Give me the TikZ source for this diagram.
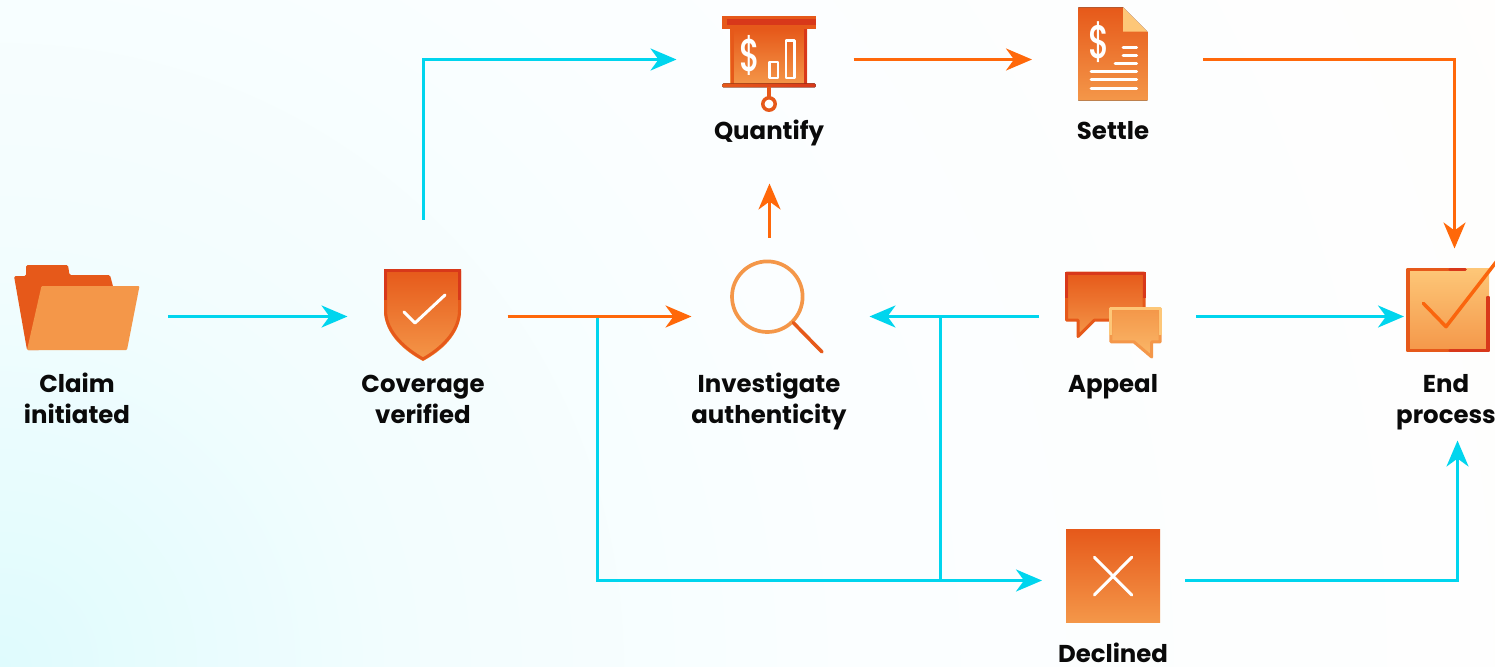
\documentclass[tikz,border=0pt]{standalone}
\usepackage{fontspec}
\usepackage{graphicx}
\setmainfont{Poppins}
\newfontfamily\dollarfont{Poppins Medium}
\usetikzlibrary{arrows.meta,calc}
\definecolor{flowcyan}{HTML}{00D5EE}
\definecolor{floworange}{HTML}{FF680A}
\definecolor{deep}{HTML}{E6591A}
\definecolor{mid}{HTML}{F49749}
\definecolor{redd}{HTML}{D8381A}
\definecolor{pale}{HTML}{FDC778}
\definecolor{txt}{HTML}{0A0A0A}
\definecolor{bgA}{HTML}{DFFBFD}
\definecolor{bgB}{HTML}{F2FDFE}
\definecolor{bgC}{HTML}{FBFEFF}
\definecolor{bgD}{HTML}{FFFEFD}
\definecolor{bgE}{HTML}{FFFCF9}
\pgfdeclareradialshading{bgglow}{\pgfpointorigin}{color(0bp)=(bgA); color(6bp)=(bgB); color(13bp)=(bgC); color(26bp)=(bgD); color(50bp)=(bgE)}
\tikzset{
  iconbox/.style={minimum width=#1,inner sep=0pt,outer sep=0pt,draw=none},
  lab/.style={font=\fontsize{24.4}{31}\selectfont\bfseries,text=txt,align=center,inner sep=0pt,anchor=base},
  cyanflow/.style={draw=flowcyan,line width=3pt,-{Stealth[length=26pt,width=22pt,inset=8pt]}},
  orangeflow/.style={draw=floworange,line width=3pt,-{Stealth[length=26pt,width=22pt,inset=8pt]}},
  cyanline/.style={draw=flowcyan,line width=3pt},
  grad/.style={top color=deep,bottom color=mid},
  whiteline/.style={draw=white,line width=3pt,line cap=round,line join=round},
  glyph/.style={font=\fontsize{#1}{#1}\selectfont\dollarfont,text=white,inner sep=0pt}
}
\begin{document}
\begin{tikzpicture}[x=1pt,y=-1pt]
\useasboundingbox (0,0) rectangle (1495,666);
\clip (0,0) rectangle (1495,666);
\shade[shading=bgglow] (0,666) circle (1640);

% placeholders
\node[iconbox=126pt,minimum height=70pt] (claim) at (77,316.5) {};
\node[iconbox=78pt,minimum height=94pt] (coverage) at (423.5,316.5) {};
\node[iconbox=94pt,minimum height=100pt] (investigate) at (769.5,316.5) {};
\node[iconbox=94pt,minimum height=86pt] (quantify) at (769.5,59.5) {};
\node[iconbox=70pt,minimum height=100pt] (settle) at (1113,59.5) {};
\node[iconbox=98pt,minimum height=90pt] (appeal) at (1113,316.5) {};
\node[iconbox=88pt,minimum height=136pt] (endp) at (1448,316.5) {};
\node[iconbox=94pt,minimum height=94pt] (declined) at (1113,580.5) {};
\coordinate (branchA) at (597.5,316.5);
\coordinate (branchB) at (940.5,316.5);

% connectors
\draw[cyanflow] (branchA) |- ([xshift=-24pt]declined.west);
\draw[cyanline] (branchB) -- (branchB |- declined.west);
\draw[cyanflow,shorten <=28pt,shorten >=37pt] (claim.east) -- (coverage.west);
\draw[orangeflow,shorten <=45pt,shorten >=31pt] (coverage.east) -- (investigate.west);
\draw[cyanflow,shorten <=50pt,shorten >=46pt] (coverage.north) |- (quantify.west);
\draw[orangeflow,shorten <=37pt,shorten >=46pt] (quantify.east) -- (settle.west);
\draw[orangeflow,shorten <=55pt] (settle.east) -| ([xshift=6.5pt]endp.north);
\draw[orangeflow,shorten <=29pt,shorten >=81pt] (investigate.north) -- (quantify.south);
\draw[cyanflow,shorten <=25pt,shorten >=53pt] (appeal.west) -- (investigate.east);
\draw[cyanflow,shorten <=34pt] (appeal.east) -- (endp.west);
\draw[cyanflow,shorten <=25pt,shorten >=56pt] (declined.east) -| ([xshift=9.5pt]endp.south);

% folder
\fill[deep,rounded corners=1.5pt] (14,276) -- (26,276) -- (26,265) -- (68,265) -- (69.5,275) -- (110,275) -- (114,290) -- (40,350) -- (27,350) -- cycle;
\fill[mid,rounded corners=1pt] (41.5,286) -- (139.5,286) -- (127,350) -- (27,350) -- cycle;

% shield
\path[grad,draw=none] (384,269) -- (461,269) -- (461,310) .. controls (461,335) and (440,352) .. (423,361) .. controls (406,352) and (384,335) .. (384,310) -- cycle;
\draw[deep,line width=3pt] (385.5,270.5) -- (385.5,310) .. controls (385.5,333) and (407,350) .. (423,359) .. controls (439,350) and (459.5,333) .. (459.5,310) -- (459.5,270.5);
\draw[redd,line width=3pt,line join=miter] (385.5,300) -- (385.5,270.5) -- (459.5,270.5) -- (459.5,300);
\draw[whiteline] (404,312) -- (415,323) -- (445,295);

% quantify
\fill[grad] (730.7,29) rectangle (807,85);
\fill[redd] (804,29) rectangle (807,85);
\fill[deep] (730.7,29) rectangle (733.5,85);
\fill[deep] (722.3,16) rectangle (815.7,29);
\fill[redd] (726.5,19) rectangle (815.7,25);
\fill[left color=deep,right color=redd,rounded corners=1pt] (722.3,83.5) rectangle (815.7,87.5);
\fill[deep] (767.3,87) rectangle (770.7,98);
\draw[deep,line width=3.5pt,fill=white] (769,104) circle (6.2);
\node[glyph=46] (dollarA) at (749.5,55) {\scalebox{0.7}[1]{\$}};
\draw[draw=white,line width=2.6pt,line join=round] (769.5,62) rectangle (778,78);
\draw[draw=white,line width=2.6pt,line join=round] (785.8,40.5) rectangle (794.5,78);

% settle
\fill[grad] (1078.3,7.3) -- (1123,7.3) -- (1147.3,31.7) -- (1147.3,100.7) -- (1078.3,100.7) -- cycle;
\fill[pale] (1123,7.3) -- (1147.3,31.7) -- (1123,31.7) -- cycle;
\node[glyph=47] (dollarB) at (1099,42) {\scalebox{0.7}[1]{\$}};
\draw[whiteline] (1123,48) -- (1136.5,48);
\draw[whiteline] (1123,56) -- (1136.5,56);
\draw[whiteline] (1115,64) -- (1136.5,64);
\draw[whiteline] (1091,72) -- (1136.5,72);
\draw[whiteline] (1091,80) -- (1136.5,80);
\draw[whiteline] (1091,88.5) -- (1136.5,88.5);

% magnifier
\draw[mid,line width=3.7pt] (767.3,296.7) circle (35.3);
\draw[deep,line width=3.5pt,line cap=round] (793.3,322.7) -- (822,352);

% appeal
\path[grad,draw=deep,line width=3pt,line join=round] (1066.5,273) -- (1144,273) -- (1144,320.2) -- (1094.3,320.2) -- (1078,336.5) -- (1078,320.2) -- (1066.5,320.2) -- cycle;
\draw[redd,line width=3pt,line join=miter] (1066.5,298) -- (1066.5,273) -- (1144,273) -- (1144,298);
\path[top color=mid,bottom color=pale!70!mid,draw=mid,line width=3pt,line join=round] (1110.8,308.8) -- (1160.2,308.8) -- (1160.2,341.8) -- (1151.7,341.8) -- (1151.7,357) -- (1133.8,341.8) -- (1110.8,341.8) -- cycle;
\draw[pale,line width=3pt,line join=round] (1110.8,335) -- (1110.8,308.8) -- (1160.2,308.8) -- (1160.2,335);

% end
\fill[top color=pale,bottom color=mid] (1406.7,268) rectangle (1489,351.7);
\draw[deep,line width=3.5pt,line join=round,line cap=round] (1465,269.5) -- (1408,269.5) -- (1408,350.5) -- (1488,350.5) -- (1488,297.7);
\draw[redd,line width=3.5pt,line join=round,line cap=round] (1450,350.5) -- (1488,350.5) -- (1488,297.7);
\draw[redd,line width=3.5pt,line cap=round] (1450,269.5) -- (1465,269.5);
\draw[floworange!80!deep,line width=3.5pt,line join=round,line cap=round] (1423.3,303.3) -- (1446,326.7) -- (1500,257);

% declined
\fill[grad] (1066,529) rectangle (1160,622.7);
\draw[whiteline] (1094.3,557.3) -- (1131.7,595);
\draw[whiteline] (1131.7,557.3) -- (1094.3,595);

% labels
\node[lab] (lclaim) at (77,423) {Claim\\initiated};
\node[lab] (lcoverage) at (423,423) {Coverage\\verified};
\node[lab] (linvest) at (769,423) {Investigate\\authenticity};
\node[lab] (lappeal) at (1113,392) {Appeal};
\node[lab] (lend) at (1446,423) {End\\process};
\node[lab] (lquant) at (769,139.5) {Quantify};
\node[lab] (lsettle) at (1113,139.5) {Settle};
\node[lab] (ldecl) at (1113,662) {Declined};
\end{tikzpicture}
\end{document}
